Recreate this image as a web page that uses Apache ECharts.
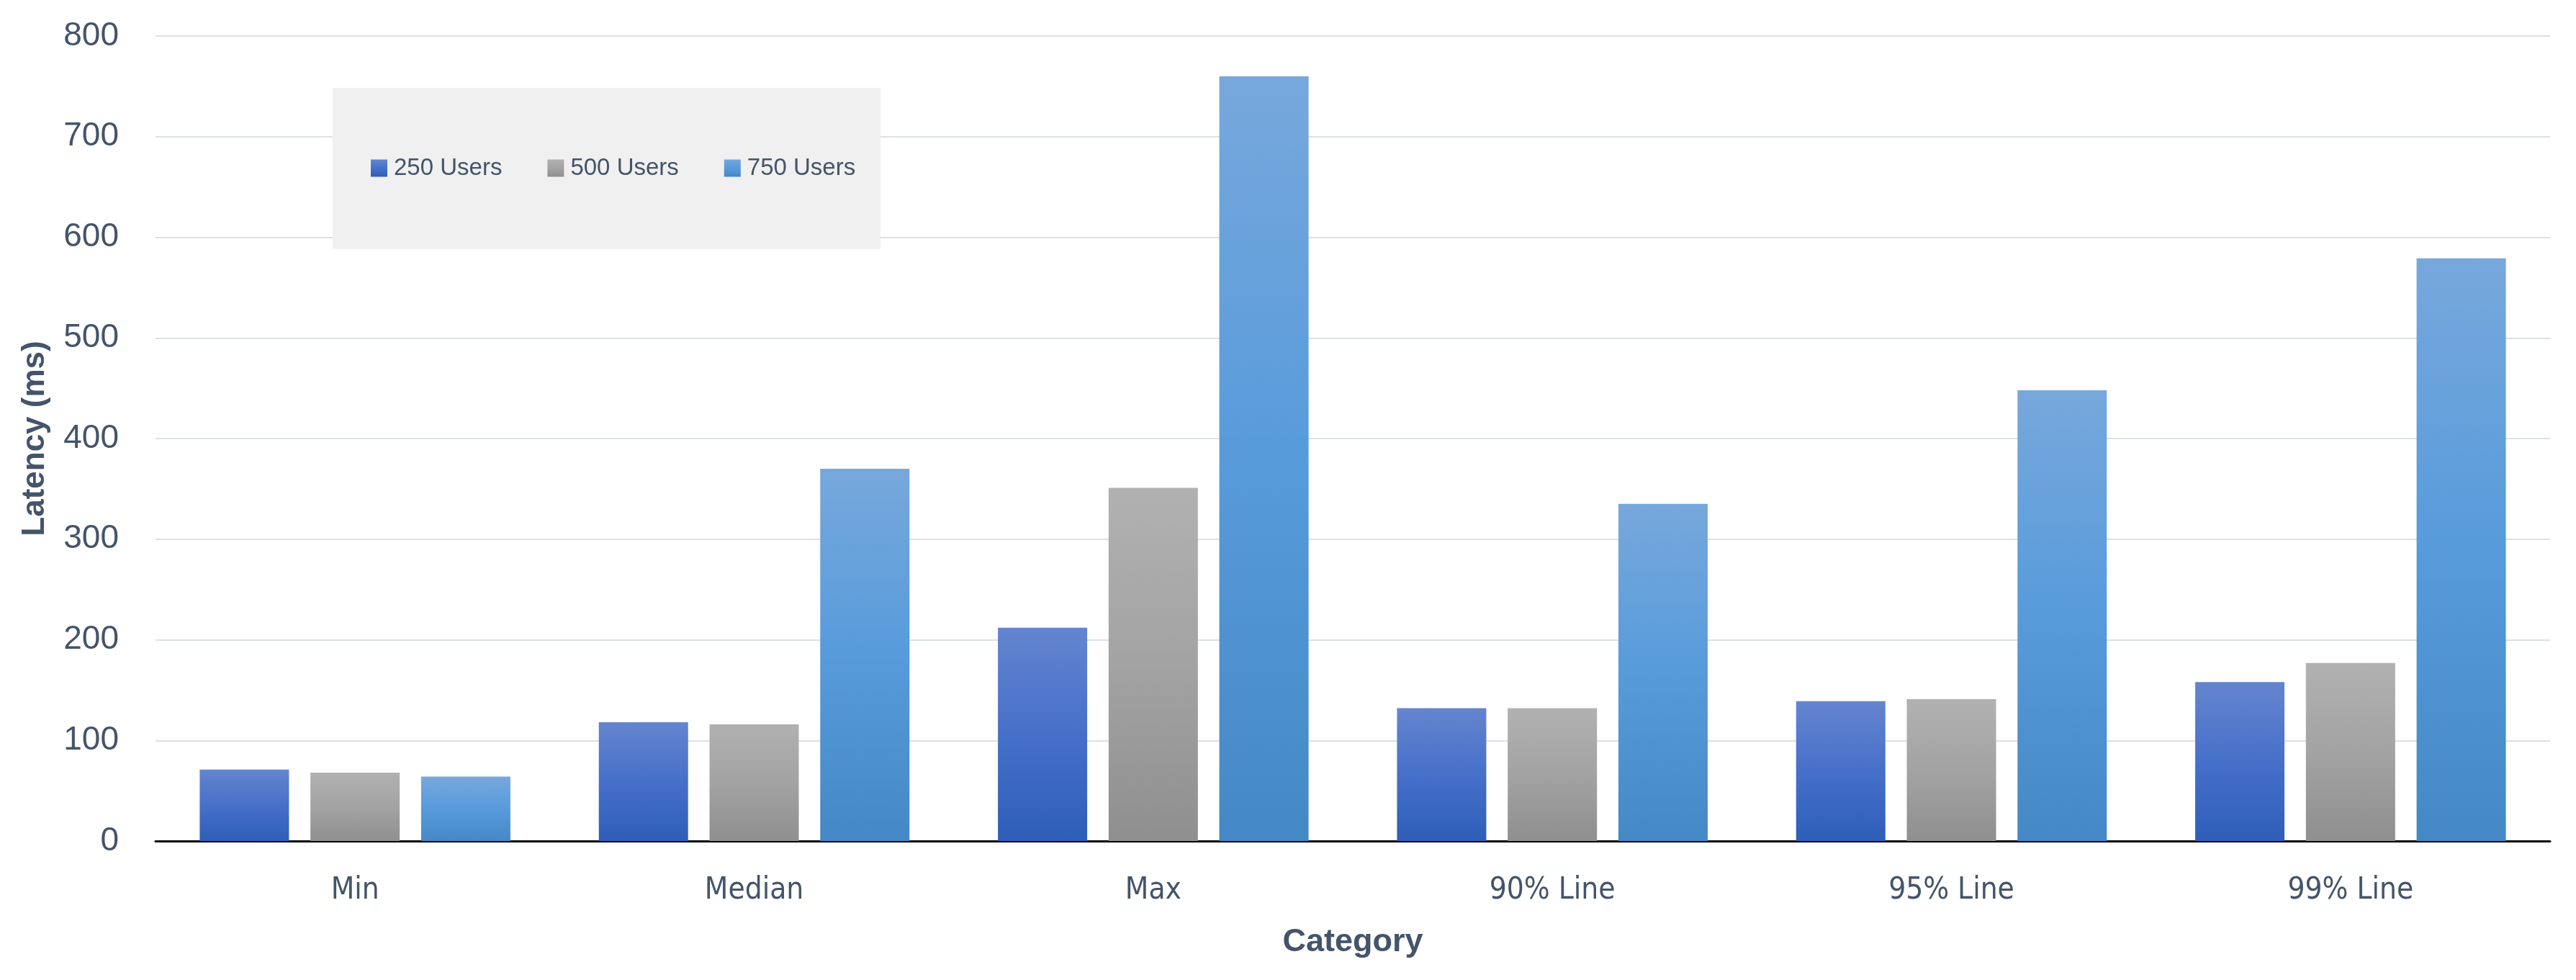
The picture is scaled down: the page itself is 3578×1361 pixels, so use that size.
<!DOCTYPE html>
<html>
<head>
<meta charset="utf-8">
<script src="https://cdn.jsdelivr.net/npm/echarts@6/dist/echarts.min.js"></script>
<style>
  html, body { margin: 0; padding: 0; background: #fff; }
  #chart { width: 3578px; height: 1361px; }
</style>
</head>
<body>
<div id="chart"></div>
<script>
// data
var categories = ['Min', 'Median', 'Max', '90% Line', '95% Line', '99% Line'];
var users250 = [71, 118, 212, 132, 139, 158];
var users500 = [68, 116, 351, 132, 141, 177];
var users750 = [64, 370, 760, 335, 448, 579];
var yTicks = { min: 0, max: 800, interval: 100 };

var textColor = '#44546A';

// per-bar vertical gradients
function grad(stops) {
    return new echarts.graphic.LinearGradient(0, 0, 0, 1, stops.map(function (c, i) {
        return { offset: i / (stops.length - 1), color: c };
    }));
}

var chart = echarts.init(document.getElementById('chart'));

chart.setOption({
    animation: false,
    grid: {
        left: 216,
        right: 36,
        top: 50,
        bottom: 193
    },
    graphic: [{
        type: 'rect',
        left: 462,
        top: 122,
        z: 3,
        shape: { width: 761, height: 224 },
        style: { fill: '#F0F0F0' }
    }],
    legend: {
        z: 10,
        left: 515,
        top: 217,
        padding: 0,
        itemWidth: 23,
        itemHeight: 24,
        itemGap: 63,
        icon: 'rect',
        textStyle: {
            fontFamily: 'Liberation Sans',
            fontSize: 33,
            color: textColor,
            padding: [0, 0, 0, 4]
        },
        data: ['250 Users', '500 Users', '750 Users']
    },
    xAxis: {
        type: 'category',
        data: categories,
        name: 'Category',
        nameLocation: 'middle',
        nameGap: 118,
        nameTextStyle: {
            fontFamily: 'Liberation Sans',
            fontWeight: 'bold',
            fontSize: 45,
            color: textColor
        },
        axisTick: { show: false },
        axisLine: {
            lineStyle: { color: '#000', width: 3 }
        },
        axisLabel: {
            margin: 48,
            fontFamily: "'DejaVu Sans Condensed', Roboto, sans-serif",
            fontSize: 42,
            color: textColor
        }
    },
    yAxis: {
        type: 'value',
        min: yTicks.min,
        max: yTicks.max,
        interval: yTicks.interval,
        name: 'Latency (ms)',
        nameLocation: 'middle',
        nameGap: 145,
        nameTextStyle: {
            fontFamily: 'Liberation Sans',
            fontWeight: 'bold',
            fontSize: 44,
            color: textColor
        },
        axisLine: { show: false },
        axisTick: { show: false },
        axisLabel: {
            margin: 51,
            fontFamily: 'Liberation Sans',
            fontSize: 46,
            color: textColor
        },
        splitLine: {
            lineStyle: { color: '#DCE0E8', width: 2 }
        }
    },
    series: [
        {
            name: '250 Users',
            type: 'bar',
            barWidth: 124,
            barGap: '24%',
            itemStyle: { color: grad(['#6485CF', '#4670C9', '#2E5EB9']) },
            data: users250
        },
        {
            name: '500 Users',
            type: 'bar',
            barWidth: 124,
            barGap: '24%',
            itemStyle: { color: grad(['#B1B1B1', '#A3A3A3', '#8F8F8F']) },
            data: users500
        },
        {
            name: '750 Users',
            type: 'bar',
            barWidth: 124,
            barGap: '24%',
            itemStyle: { color: grad(['#77A8DC', '#579BDB', '#4488C5']) },
            data: users750
        }
    ]
});
</script>
</body>
</html>
